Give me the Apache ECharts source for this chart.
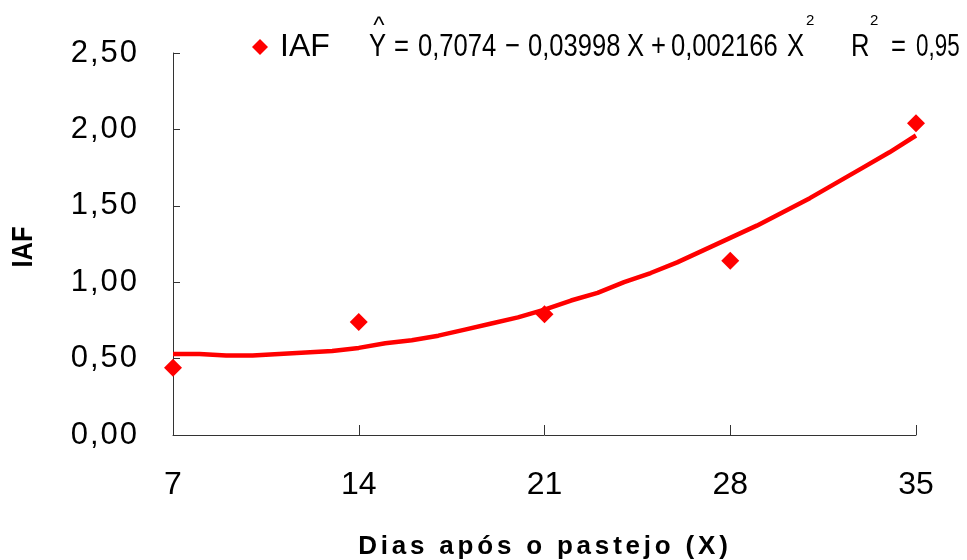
<!DOCTYPE html>
<html>
<head>
<meta charset="utf-8">
<script src="https://cdn.jsdelivr.net/npm/echarts@6/dist/echarts.min.js"></script>
<style>
html,body{margin:0;padding:0;background:#fff;}
#chart{width:967px;height:560px;}
</style>
</head>
<body>
<div id="chart"></div>
<script>
// Observed data (IAF by days after grazing)
const days = [7, 14, 21, 28, 35];
const iaf = [0.44, 0.74, 0.79, 1.14, 2.04];

// Fitted curve
const fitDays = [7, 8, 9, 10, 11, 12, 13, 14, 15, 16, 17, 18, 19, 20, 21, 22, 23, 24, 25, 26, 27, 28, 29, 30, 31, 32, 33, 34, 35];
const fitIaf = [0.53, 0.53, 0.52, 0.52, 0.53, 0.54, 0.55, 0.57, 0.60, 0.62, 0.65, 0.69, 0.73, 0.77, 0.82, 0.88, 0.93, 1.00, 1.06, 1.13, 1.21, 1.29, 1.37, 1.46, 1.55, 1.65, 1.75, 1.85, 1.96];

// Texts
const seriesName = 'IAF';
const yTitle = 'IAF';
const xTitle = 'Dias após o pastejo (X)';

const FONT = '"Liberation Sans", Arial, sans-serif';

function spaced(str, tag) {
  const chars = Array.from(str);
  return chars.map((c, i) => '{' + (i < chars.length - 1 ? tag : tag + 'L') + '|' + (c === ' ' ? '\u00a0' : c) + '}').join('');
}

const chart = echarts.init(document.getElementById('chart'), null, {renderer: 'canvas'});

const eqStyle = (t) => ({text: t, font: '32px ' + FONT, fill: '#000', textAlign: 'left', textVerticalAlign: 'middle'});
const eqY = 47;

const option = {
  animation: false,
  backgroundColor: '#fff',
  grid: {left: 173, right: 51, top: 53, bottom: 125, containLabel: false},
  legend: {
    data: [seriesName],
    left: 252, top: 31, padding: 0,
    icon: 'diamond',
    itemWidth: 16, itemHeight: 16,
    itemStyle: {opacity: 1, color: '#ff0000'},
    textStyle: {fontSize: 32, fontFamily: FONT, color: '#000', padding: [0, 0, 0, 7]}
  },
  xAxis: {
    type: 'value', min: 7, max: 35, interval: 7,
    axisLine: {lineStyle: {color: '#333', width: 1}},
    axisTick: {inside: true, length: 10, lineStyle: {color: '#333'}},
    splitLine: {show: false},
    axisLabel: {fontSize: 32, fontFamily: FONT, color: '#000', margin: 34, formatter: v => String(v)}
  },
  yAxis: {
    type: 'value', min: 0, max: 2.5, interval: 0.5,
    axisLine: {show: true, lineStyle: {color: '#333', width: 1}},
    axisTick: {show: true, inside: true, length: 7, lineStyle: {color: '#333'}},
    splitLine: {show: false},
    axisLabel: {
      margin: 36,
      formatter: v => spaced(v.toFixed(2).replace('.', ','), 'c'),
      rich: {
        c: {fontSize: 31, fontFamily: FONT, color: '#000', padding: [0, 2, 0, 0]},
        cL: {fontSize: 31, fontFamily: FONT, color: '#000'}
      }
    }
  },
  series: [
    {
      name: 'fit', type: 'line', data: fitDays.map((d, i) => [d, fitIaf[i]]),
      showSymbol: false, symbol: 'none', smooth: false,
      lineStyle: {color: '#ff0000', width: 4.5}, z: 2
    },
    {
      name: seriesName, type: 'scatter', data: days.map((d, i) => [d, iaf[i]]),
      symbol: 'diamond', symbolSize: 18,
      itemStyle: {color: '#ff0000', opacity: 1}, z: 3
    }
  ],
  graphic: [
    // y axis title
    {type: 'text', x: 24, y: 247, rotation: Math.PI / 2, scaleX: 0.85,
      style: {text: yTitle, font: 'bold 30px ' + FONT, fill: '#000', textAlign: 'center', textVerticalAlign: 'middle'}},
    // x axis title
    {type: 'text', x: 543, y: 547,
      style: {text: spaced(xTitle, 't'), textAlign: 'center', textVerticalAlign: 'middle',
        rich: {
          t: {font: 'bold 26px ' + FONT, fill: '#000', padding: [0, 3.8, 0, 0]},
          tL: {font: 'bold 26px ' + FONT, fill: '#000'}
        }}},
    // regression equation
    {type: 'text', x: 369, y: eqY, scaleX: 0.8, style: eqStyle('Y')},
    {type: 'text', x: 379, y: 26, style: {text: '^', font: '24px ' + FONT, fill: '#000', textAlign: 'center', textVerticalAlign: 'middle'}},
    {type: 'text', x: 394, y: eqY, scaleX: 0.8, style: eqStyle('=')},
    {type: 'text', x: 418, y: eqY, scaleX: 0.8, style: eqStyle('0,7074')},
    {type: 'text', x: 505, y: eqY, scaleX: 0.8, style: eqStyle('\u2212')},
    {type: 'text', x: 528, y: eqY, scaleX: 0.8, style: eqStyle('0,03998')},
    {type: 'text', x: 627, y: eqY, scaleX: 0.8, style: eqStyle('X')},
    {type: 'text', x: 651, y: eqY, scaleX: 0.8, style: eqStyle('+')},
    {type: 'text', x: 671, y: eqY, scaleX: 0.8, style: eqStyle('0,002166')},
    {type: 'text', x: 787, y: eqY, scaleX: 0.8, style: eqStyle('X')},
    {type: 'text', x: 806, y: 21, style: {text: '2', font: '15px ' + FONT, fill: '#000', textAlign: 'left', textVerticalAlign: 'middle'}},
    {type: 'text', x: 851, y: eqY, scaleX: 0.8, style: eqStyle('R')},
    {type: 'text', x: 870, y: 21, style: {text: '2', font: '15px ' + FONT, fill: '#000', textAlign: 'left', textVerticalAlign: 'middle'}},
    {type: 'text', x: 891, y: eqY, scaleX: 0.8, style: eqStyle('=')},
    {type: 'text', x: 916, y: eqY, scaleX: 0.7, style: eqStyle('0,95')}
  ]
};
chart.setOption(option);
</script>
</body>
</html>
